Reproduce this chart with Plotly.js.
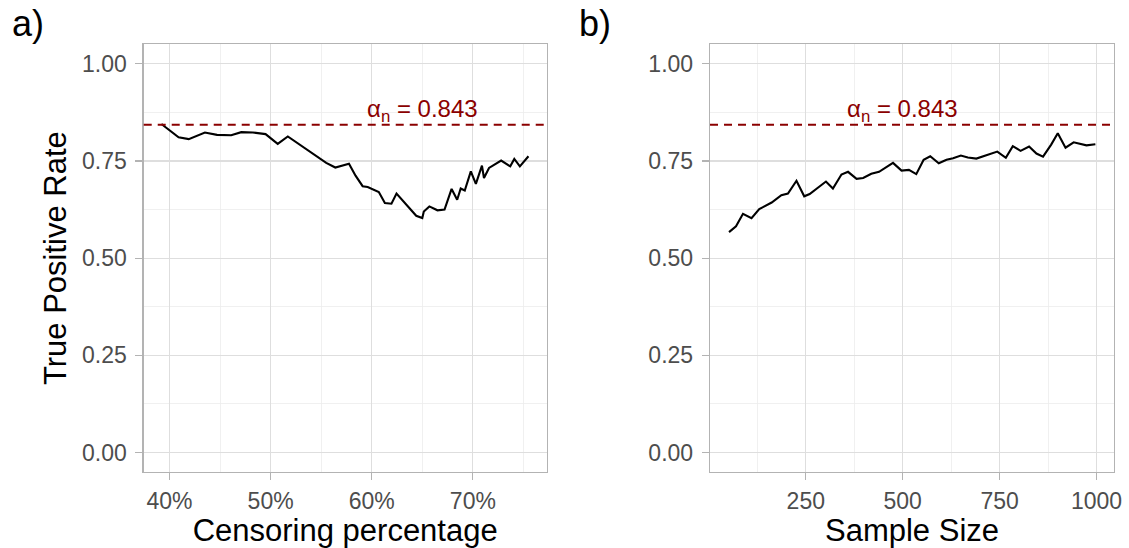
<!DOCTYPE html>
<html>
<head>
<meta charset="utf-8">
<script src="https://cdn.plot.ly/plotly-3.0.1.min.js"></script>
<style>html,body{margin:0;padding:0;background:#fff}#chart{width:1129px;height:548px}</style>
</head>
<body>
<div id="chart"></div>
<script>
// Panel a: censoring percentage vs true positive rate
const censPct = [39.2, 40.9, 41.9, 43.5, 44.7, 46.1, 47.1, 48.25, 49.5, 50.7, 51.7, 53.5, 55.5, 56.4, 57.75, 58.4, 59.1, 59.6, 60.7, 61.3, 61.95, 62.45, 63.4, 64.4, 65.0, 65.15, 65.7, 66.5, 67.2, 67.9, 68.45, 68.8, 69.2, 69.8, 70.3, 70.9, 71.1, 71.6, 72.8, 73.7, 74.1, 74.65, 75.5];
const censTPR = [0.845, 0.811, 0.806, 0.823, 0.817, 0.816, 0.824, 0.823, 0.819, 0.794, 0.813, 0.781, 0.745, 0.733, 0.743, 0.712, 0.685, 0.683, 0.670, 0.642, 0.640, 0.666, 0.638, 0.609, 0.603, 0.620, 0.633, 0.623, 0.625, 0.678, 0.650, 0.679, 0.674, 0.723, 0.691, 0.738, 0.706, 0.732, 0.751, 0.736, 0.755, 0.736, 0.762];

// Panel b: sample size vs true positive rate
const sampleSize = [52, 70, 88, 110, 130, 162, 187, 204, 226, 246, 260, 282, 302, 320, 342, 359, 381, 398, 419, 439, 475, 497, 516, 535, 554, 571, 593, 613, 630, 650, 668, 690, 707, 744, 766, 784, 804, 826, 845, 862, 883, 900, 920, 941, 974, 997];
const sizeTPR = [0.567, 0.582, 0.614, 0.603, 0.626, 0.643, 0.662, 0.666, 0.699, 0.659, 0.665, 0.683, 0.697, 0.679, 0.715, 0.722, 0.704, 0.706, 0.717, 0.722, 0.745, 0.725, 0.727, 0.716, 0.753, 0.762, 0.744, 0.753, 0.757, 0.764, 0.759, 0.756, 0.762, 0.774, 0.758, 0.788, 0.776, 0.787, 0.769, 0.761, 0.792, 0.821, 0.784, 0.798, 0.790, 0.793];

const alphaN = 0.843;
const alphaLabel = "α<sub>n</sub> = 0.843";
const yTicks = [0, 0.25, 0.5, 0.75, 1];
const yTickText = ["0.00", "0.25", "0.50", "0.75", "1.00"];
const xTicksA = [40, 50, 60, 70];
const xTickTextA = ["40%", "50%", "60%", "70%"];
const xTicksB = [250, 500, 750, 1000];
const xTickTextB = ["250", "500", "750", "1000"];

const FONT = "Liberation Sans, Arial, Helvetica, sans-serif";
const GRID = "#dedede";
const BORDER = "#b3b3b3";
const TICKC = "#4d4d4d";
const RED = "#8b0000";

const traces = [
  {x: censPct, y: censTPR, xaxis: "x", yaxis: "y", type: "scatter", mode: "lines",
   line: {color: "#000", width: 2.1}, hoverinfo: "skip"},
  {x: sampleSize, y: sizeTPR, xaxis: "x2", yaxis: "y2", type: "scatter", mode: "lines",
   line: {color: "#000", width: 2.1}, hoverinfo: "skip"}
];

function xAxis(domain, range, ticks, text, title, minorDt) {
  return {
    domain: domain, range: range, tickmode: "array", tickvals: ticks, ticktext: text,
    showgrid: true, gridcolor: GRID, gridwidth: 1.2, zeroline: false,
    showline: true, mirror: true, linecolor: BORDER, linewidth: 1.3,
    ticks: "outside", ticklen: 7, tickcolor: BORDER, tickwidth: 1.2,
    ticklabelstandoff: 1,
    tickfont: {family: FONT, size: 23, color: TICKC},
    minor: {dtick: minorDt, tick0: 0, showgrid: true, gridcolor: "#ececec", gridwidth: 0.8, ticks: ""},
    title: {text: title, font: {family: FONT, size: 31, color: "#000"}, standoff: 6},
    fixedrange: true
  };
}
function yAxis(anchor, withTitle) {
  return {
    domain: [0.1387, 0.9192], range: [-0.05, 1.05], anchor: anchor,
    tickmode: "array", tickvals: yTicks, ticktext: yTickText,
    showgrid: true, gridcolor: GRID, gridwidth: 1.2, zeroline: false,
    showline: true, mirror: true, linecolor: BORDER, linewidth: 1.3,
    ticks: "outside", ticklen: 7, tickcolor: BORDER, tickwidth: 1.2,
    ticklabelstandoff: 4,
    tickfont: {family: FONT, size: 23, color: TICKC},
    minor: {dtick: 0.125, tick0: 0, showgrid: true, gridcolor: "#ececec", gridwidth: 0.8, ticks: ""},
    title: withTitle ? {text: "True Positive Rate", font: {family: FONT, size: 31, color: "#000"}, standoff: 6} : undefined,
    fixedrange: true
  };
}

const layout = {
  width: 1129, height: 548,
  margin: {l: 0, r: 0, t: 0, b: 0},
  paper_bgcolor: "#fff", plot_bgcolor: "#fff",
  showlegend: false,
  xaxis: xAxis([0.1273, 0.4842], [37.45, 77.3], xTicksA, xTickTextA, "Censoring percentage", 5),
  yaxis: yAxis("x", true),
  xaxis2: Object.assign(xAxis([0.6289, 0.9867], [3, 1045], xTicksB, xTickTextB, "Sample Size", 125), {anchor: "y2"}),
  yaxis2: yAxis("x2", false),
  shapes: [
    {type: "line", xref: "x domain", yref: "y", x0: 0, x1: 1, y0: alphaN, y1: alphaN,
     line: {color: RED, width: 2, dash: "8px,6px"}},
    {type: "line", xref: "x2 domain", yref: "y2", x0: 0, x1: 1, y0: alphaN, y1: alphaN,
     line: {color: RED, width: 2, dash: "8px,6px"}}
  ],
  annotations: [
    {xref: "x", yref: "y", x: 65, y: 0.88, text: alphaLabel, showarrow: false,
     xanchor: "center", yanchor: "middle", font: {family: FONT, size: 24, color: RED}},
    {xref: "x2", yref: "y2", x: 500, y: 0.88, text: alphaLabel, showarrow: false,
     xanchor: "center", yanchor: "middle", font: {family: FONT, size: 24, color: RED}},
    {xref: "paper", yref: "paper", x: 10 / 1129, y: 1 - 24 / 548, text: "a)", showarrow: false,
     xanchor: "left", yanchor: "middle", font: {family: FONT, size: 36, color: "#000"}},
    {xref: "paper", yref: "paper", x: 577 / 1129, y: 1 - 24 / 548, text: "b)", showarrow: false,
     xanchor: "left", yanchor: "middle", font: {family: FONT, size: 36, color: "#000"}}
  ]
};

Plotly.newPlot("chart", traces, layout, {staticPlot: true, displayModeBar: false});
</script>
</body>
</html>
